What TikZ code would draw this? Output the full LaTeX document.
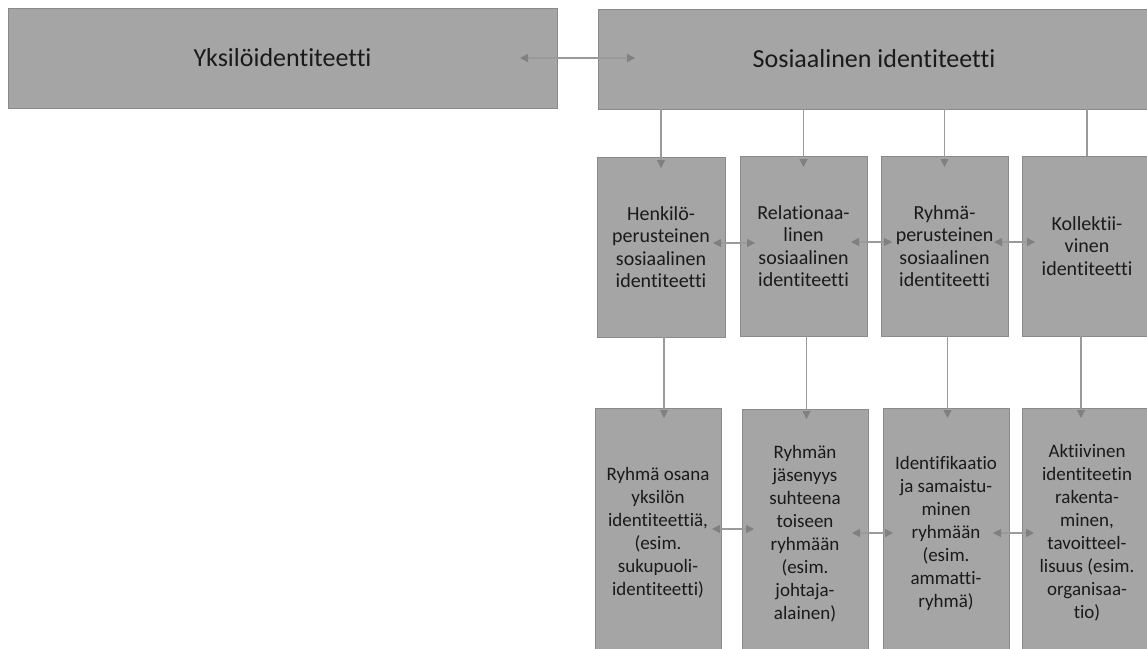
\documentclass[tikz,border=0pt]{standalone}
\usepackage{fontspec}
\setmainfont{Carlito}[Ligatures=NoCommon]
\usepackage{tikz}
\usetikzlibrary{arrows.meta,calc}
\usepackage{xcolor}
\definecolor{boxfill}{HTML}{A5A5A5}
\definecolor{boxline}{HTML}{8A8A8A}
\definecolor{linkgray}{HTML}{9A9A9A}
\definecolor{tipgray}{HTML}{808080}
\definecolor{txt}{HTML}{1A1A1A}

\begin{document}
\begin{tikzpicture}[x=1pt,y=-1pt,
  box/.style={draw=boxline,fill=boxfill,line width=0.9pt,anchor=north west,inner sep=0pt,outer sep=0pt,align=center,text=txt},
  topbox/.style={box,minimum width=549pt,minimum height=100pt,font=\fontsize{26}{30}\selectfont},
  midbox/.style={box,minimum width=127pt,minimum height=180pt,font=\fontsize{20}{22.5}\selectfont},
  lowbox/.style={box,minimum width=126pt,minimum height=250pt,font=\fontsize{19}{23}\selectfont},
  link/.style={draw=linkgray,line width=1.1pt},
  tip/.style={link,-{Triangle[length=8pt,width=8pt,color=tipgray]}},
  both/.style={link,{Triangle[length=8pt,width=8pt,color=tipgray]}-{Triangle[length=8pt,width=8pt,color=tipgray]}}]
  \useasboundingbox (0,0) rectangle (1147,648);
  % top row
  \node[topbox] (yks) at (8,8) {Yksilöidentiteetti};
  \node[topbox,minimum width=552pt] (sos) at (598,9) {Sosiaalinen identiteetti};
  % middle row
  \node[midbox,minimum width=128pt] (h1) at (597,157) {Henkilö-\\perusteinen\\sosiaalinen\\identiteetti};
  \node[midbox] (h2) at (740,156) {Relationaa-\\linen\\sosiaalinen\\identiteetti};
  \node[midbox] (h3) at (881,156) {Ryhmä-\\perusteinen\\sosiaalinen\\identiteetti};
  \node[midbox,minimum width=130pt] (h4) at (1022,156) {Kollektii-\\vinen\\identiteetti};
  % bottom row
  \node[lowbox] (r1) at (595,408) {Ryhmä osana\\yksilön\\identiteettiä,\\(esim.\\sukupuoli-\\identiteetti)};
  \node[lowbox] (r2) at (742,409) {Ryhmän\\jäsenyys\\suhteena\\toiseen\\ryhmään\\(esim.\\johtaja-\\alainen)};
  \node[lowbox] (r3) at (883,408) {Identifikaatio\\ja samaistu-\\minen\\ryhmään\\(esim.\\ammatti-\\ryhmä)};
  \node[lowbox,minimum width=130pt] (r4) at (1022,408) {Aktiivinen\\identiteetin\\rakenta-\\minen,\\tavoitteel-\\lisuus (esim.\\organisaa-\\tio)};
  % connectors
  \draw[both] ($(yks.east)+(-37,0)$) -- ($(yks.east -| sos.west)+(37,0)$);
  \draw[tip] (sos.south -| h1) -- ($(h1.north)+(0,11)$);
  \draw[tip] (sos.south -| h2) -- ($(h2.north)+(0,11)$);
  \draw[tip] (sos.south -| h3) -- ($(h3.north)+(0,11)$);
  \draw[link] (sos.south -| h4) -- (h4.north);
  \draw[both] ($(h1.east)+(-12,-4)$) -- ($(h1.east -| h2.west)+(15,-4)$);
  \draw[both] ($(h2.east)+(-16,-4)$) -- ($(h2.east -| h3.west)+(11,-4)$);
  \draw[both] ($(h3.east)+(-14,-4)$) -- ($(h3.east -| h4.west)+(13,-4)$);
  \draw[tip] ($(h1.south)+(3,0)$) -- ($(h1.south |- r1.north)+(3,10)$);
  \draw[tip] ($(h2.south)+(3,0)$) -- ($(h2.south |- r2.north)+(3,10)$);
  \draw[tip] ($(h3.south)+(3,0)$) -- ($(h3.south |- r3.north)+(3,10)$);
  \draw[tip] ($(h4.south)+(-6,0)$) -- ($(h4.south |- r4.north)+(-6,10)$);
  \draw[both] ($(r1.east)+(-9,-4)$) -- ($(r1.east -| r2.west)+(12,-4)$);
  \draw[both] ($(r2.east)+(-16,-1)$) -- ($(r2.east -| r3.west)+(10,-1)$);
  \draw[both] ($(r3.east)+(-16,0)$) -- ($(r3.east -| r4.west)+(12,0)$);
\end{tikzpicture}
\end{document}
